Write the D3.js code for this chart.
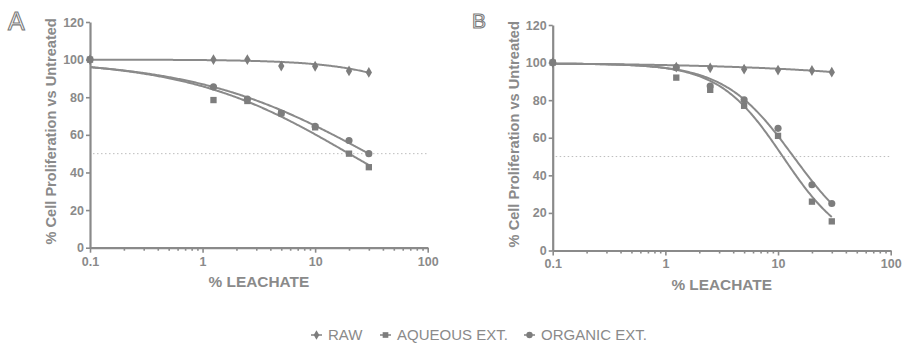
<!DOCTYPE html>
<html>
<head>
<meta charset="utf-8">
<script src="https://cdn.jsdelivr.net/npm/d3@7"></script>
<style>
  body { margin: 0; background: #fff; }
  svg { display: block; font-family: 'Liberation Sans', Arial, sans-serif; }
</style>
</head>
<body>
<svg id="chart" width="904" height="346"></svg>
<script>
'use strict';

// doses (% leachate); 0 % is drawn on the 0.1 axis origin
const doses = [0.1, 1.25, 2.5, 5, 10, 20, 30];
const seriesNames = ['RAW', 'AQUEOUS EXT.', 'ORGANIC EXT.'];

// panel A (% cell proliferation vs untreated)
const rawA = [100, 100, 100, 96.6, 96.5, 94, 93.2];
const aqueousA = [100, 78.5, 78, 71.5, 64, 50, 42.8];
const organicA = [100, 85.5, 79, 71.5, 64.5, 57, 50];

// panel B
const rawB = [100, 97.6, 97.2, 96.5, 96, 95.8, 94.9];
const aqueousB = [100, 92, 85.5, 77, 61, 26, 15.5];
const organicB = [100, 97.3, 87.5, 80.2, 65, 35, 25];

// fitted dose-response curves (top, IC50, hill), bottom fixed at 0
const fitTopA = [100, 100, 100];
const fitIC50A = [400, 20, 30];
const fitHillA = [1, 0.6, 0.557];
const fitTopB = [100, 99.5, 99.5];
const fitIC50B = [47000, 11.1, 13.8];
const fitHillB = [0.4, 1.53, 1.415];

const yTicks = [0, 20, 40, 60, 80, 100, 120];
const xTicks = [0.1, 1, 10, 100];
const xTickLabels = ['0.1', '1', '10', '100'];
const halfLine = 50;

const grey = '#8a8a8a';
const markGrey = '#7d7d7d';
const symbols = [d3.symbolDiamond, d3.symbolSquare, d3.symbolCircle];
const symbolSizes = [34, 40, 40];

const panels = [
  {
    letter: 'A', letterX: 8, letterY: 30, letterSize: 25,
    left: 90, right: 427.7, top: 22, bottom: 247.7,
    yTitleX: 56, xTitleY: 287,
    series: [rawA, aqueousA, organicA],
    fit: { top: fitTopA, ic50: fitIC50A, hill: fitHillA },
  },
  {
    letter: 'B', letterX: 472, letterY: 28, letterSize: 21,
    left: 552.7, right: 890.7, top: 25, bottom: 250.5,
    yTitleX: 519, xTitleY: 290,
    series: [rawB, aqueousB, organicB],
    fit: { top: fitTopB, ic50: fitIC50B, hill: fitHillB },
  },
];

const svg = d3.select('#chart');

const logistic = (top, ic50, hill) => (x) => top / (1 + Math.pow(x / ic50, hill));

const minorTicks = () => {
  const out = [];
  [0.1, 1, 10].forEach((d) => {
    for (let k = 2; k <= 9; k++) out.push(d * k);
  });
  return out;
};

const drawPanel = (p) => {
  const g = svg.append('g');
  const x = d3.scaleLog().domain([0.1, 100]).range([p.left, p.right]);
  const y = d3.scaleLinear().domain([0, 120]).range([p.bottom, p.top]);

  // panel letter (outlined)
  g.append('text')
    .attr('x', p.letterX)
    .attr('y', p.letterY)
    .attr('font-size', p.letterSize)
    .attr('fill', '#fff')
    .attr('stroke', '#7a7a7a')
    .attr('stroke-width', 1.1)
    .text(p.letter);

  // 50 % dotted reference
  g.append('line')
    .attr('x1', x(0.1) + 3)
    .attr('x2', x(100))
    .attr('y1', y(halfLine))
    .attr('y2', y(halfLine))
    .attr('stroke', '#bdbdbd')
    .attr('stroke-width', 1)
    .attr('stroke-dasharray', '1.5,2.5');

  // y axis
  const yAxis = g.append('g')
    .attr('transform', `translate(${p.left},0)`)
    .call(d3.axisLeft(y).tickValues(yTicks).tickSize(4).tickSizeOuter(0).tickPadding(2));

  // x axis: minor then major ticks
  const xMinor = g.append('g')
    .attr('transform', `translate(0,${p.bottom})`)
    .call(d3.axisBottom(x).tickValues(minorTicks()).tickSize(3).tickSizeOuter(0).tickFormat(''));
  xMinor.select('.domain').remove();

  const xAxis = g.append('g')
    .attr('transform', `translate(0,${p.bottom})`)
    .call(d3.axisBottom(x).tickValues(xTicks).tickSize(5).tickSizeOuter(0).tickPadding(4)
      .tickFormat((d, i) => xTickLabels[i]));

  [yAxis, xAxis, xMinor].forEach((a) => {
    a.selectAll('.domain').attr('stroke', grey).attr('stroke-width', 2.2);
    a.selectAll('.tick line').attr('stroke', grey).attr('stroke-width', 1.6);
    a.selectAll('.tick text')
      .attr('fill', grey)
      .attr('font-size', 12.5)
      .attr('font-weight', 'bold')
      .attr('font-family', "'Liberation Sans', Arial, sans-serif");
  });

  // axis titles
  g.append('text')
    .attr('transform', `translate(${p.yTitleX},${(p.top + p.bottom) / 2 - 3.5}) rotate(-90)`)
    .attr('text-anchor', 'middle')
    .attr('fill', grey)
    .attr('font-size', 14.6)
    .attr('font-weight', 'bold')
    .text('% Cell Proliferation vs Untreated');

  g.append('text')
    .attr('x', (p.left + p.right) / 2)
    .attr('y', p.xTitleY)
    .attr('text-anchor', 'middle')
    .attr('fill', grey)
    .attr('font-size', 15.4)
    .attr('font-weight', 'bold')
    .text('% LEACHATE');

  // fitted curves
  const xs = d3.range(0, 241).map((i) => Math.pow(10, -1 + (i / 240) * Math.log10(300)));
  const line = d3.line().x((d) => x(d[0])).y((d) => y(d[1])).curve(d3.curveLinear);

  p.series.forEach((vals, s) => {
    const f = logistic(p.fit.top[s], p.fit.ic50[s], p.fit.hill[s]);
    g.append('path')
      .attr('d', line(xs.map((v) => [v, f(v)])))
      .attr('fill', 'none')
      .attr('stroke', grey)
      .attr('stroke-width', 2);
  });

  // markers
  p.series.forEach((vals, s) => {
    g.append('g')
      .selectAll('path')
      .data(vals)
      .join('path')
      .attr('transform', (d, i) => `translate(${x(doses[i])},${y(d)})`)
      .attr('d', d3.symbol().type(symbols[s]).size(symbolSizes[s]))
      .attr('fill', markGrey);
  });
};

panels.forEach(drawPanel);

// legend
const legendX = [311, 380, 524];
const legend = svg.append('g').attr('transform', 'translate(0,335)');
seriesNames.forEach((name, s) => {
  const item = legend.append('g').attr('transform', `translate(${legendX[s]},0)`);
  item.append('line')
    .attr('x1', 0).attr('x2', 11)
    .attr('stroke', grey).attr('stroke-width', 1.6);
  item.append('path')
    .attr('transform', 'translate(5.5,0)')
    .attr('d', d3.symbol().type(symbols[s]).size(symbolSizes[s] * 0.8))
    .attr('fill', markGrey);
  item.append('text')
    .attr('x', 17)
    .attr('y', 5.3)
    .attr('fill', grey)
    .attr('font-size', 15)
    .text(name);
});
</script>
</body>
</html>
